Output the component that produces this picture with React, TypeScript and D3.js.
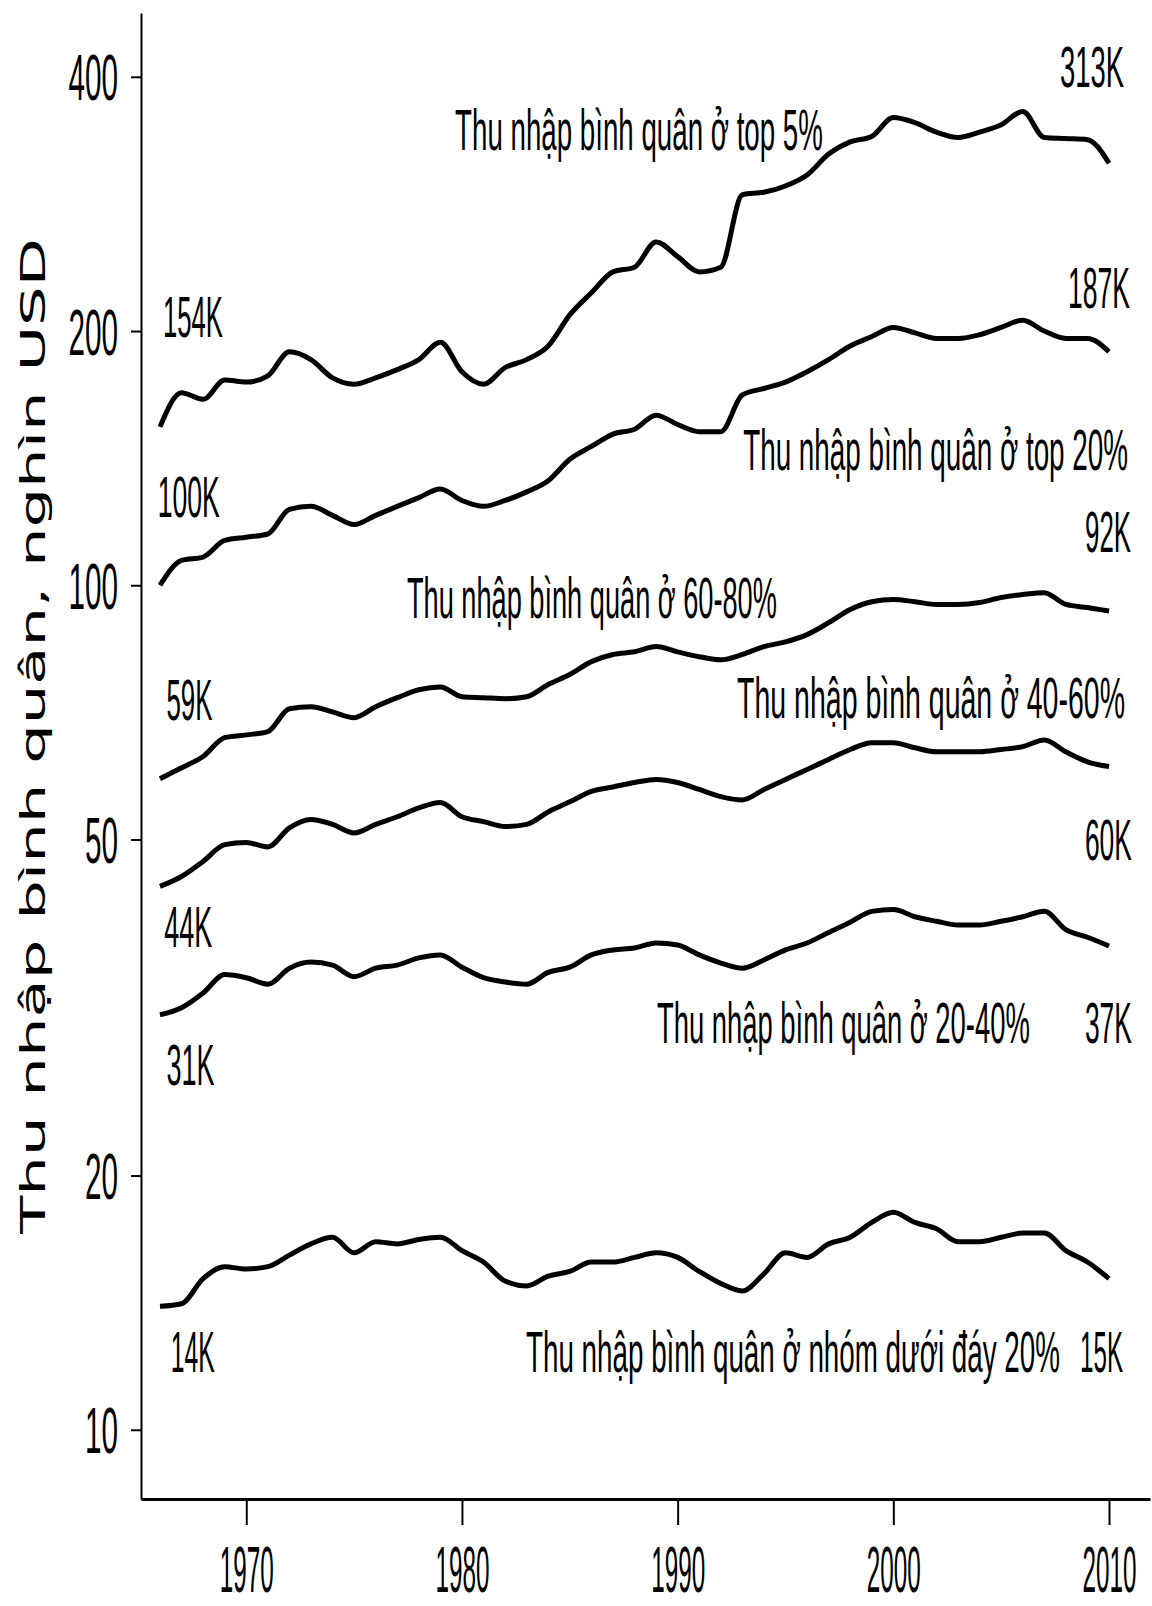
import { useEffect, useRef } from 'react';
import * as d3 from 'd3';

// Annual average household income by quintile, thousands USD (log scale)
const years = d3.range(1966, 2011);

const top5 = [154, 169, 166, 175, 174, 177, 189, 185, 176, 173, 176, 180, 185, 194, 179, 173, 181, 185, 192, 209, 222, 235, 238, 255, 245, 235, 238, 290, 292, 297, 306, 324, 335, 340, 358, 353, 344, 339, 344, 351, 364, 339, 338, 337, 316];
const top20 = [100, 107, 108, 113, 114, 115, 123, 124, 121, 118, 121, 124, 127, 130, 126, 124, 126, 129, 133, 141, 146, 151, 153, 159, 155, 152, 152, 168, 171, 174, 179, 185, 192, 197, 202, 199, 196, 196, 198, 202, 206, 200, 196, 196, 189];
const mid6080 = [59, 60.8, 62.7, 66.0, 66.5, 67.1, 71.4, 71.8, 70.8, 69.7, 71.8, 73.6, 75.2, 75.8, 73.8, 73.6, 73.4, 73.8, 76.3, 78.4, 81.2, 82.8, 83.4, 84.6, 83.4, 82.3, 81.6, 82.8, 84.6, 85.7, 87.4, 90.3, 93.6, 95.6, 96.2, 95.6, 94.9, 94.9, 95.4, 96.7, 97.5, 98.0, 94.9, 94.1, 93.2];
const mid4060 = [44, 45.2, 47.1, 49.3, 49.6, 49.0, 51.6, 52.8, 52.1, 50.9, 52.1, 53.2, 54.5, 55.3, 53.2, 52.5, 51.8, 52.1, 53.9, 55.4, 57.0, 57.7, 58.4, 58.9, 58.4, 57.3, 56.2, 55.7, 57.3, 58.9, 60.5, 62.2, 63.9, 65.1, 65.1, 64.2, 63.5, 63.5, 63.5, 63.9, 64.4, 65.6, 63.5, 61.8, 61.0];
const low2040 = [31, 31.6, 32.9, 34.6, 34.3, 33.7, 35.2, 35.8, 35.5, 34.4, 35.2, 35.5, 36.2, 36.5, 35.3, 34.3, 33.9, 33.7, 34.8, 35.3, 36.5, 37.0, 37.2, 37.7, 37.5, 36.5, 35.7, 35.2, 36.0, 37.0, 37.7, 38.8, 39.9, 41.1, 41.3, 40.5, 40.0, 39.6, 39.6, 40.0, 40.5, 41.1, 39.1, 38.3, 37.4];
const bottom20 = [14, 14.1, 15.1, 15.6, 15.5, 15.6, 16.1, 16.6, 16.9, 16.2, 16.7, 16.6, 16.8, 16.9, 16.3, 15.8, 15.0, 14.8, 15.2, 15.4, 15.8, 15.8, 16.0, 16.2, 16.0, 15.4, 14.9, 14.6, 15.3, 16.2, 16.0, 16.6, 16.9, 17.6, 18.1, 17.6, 17.3, 16.7, 16.7, 16.9, 17.1, 17.1, 16.3, 15.8, 15.1];

const seriesList = [top5, top20, mid6080, mid4060, low2040, bottom20];

const startLabels = ['154K', '100K', '59K', '44K', '31K', '14K'];
const endLabels = ['313K', '187K', '92K', '60K', '37K', '15K'];
const seriesNames = [
  'Thu nhập bình quân ở top 5%',
  'Thu nhập bình quân ở top 20%',
  'Thu nhập bình quân ở 60-80%',
  'Thu nhập bình quân ở 40-60%',
  'Thu nhập bình quân ở 20-40%',
  'Thu nhập bình quân ở nhóm dưới đáy 20%',
];

const yTicks = [10, 20, 50, 100, 200, 400];
const xTicks = [1970, 1980, 1990, 2000, 2010];
const yTitle = 'Thu nhập bình quân, nghìn USD';

const NARROW = '"Liberation Sans Narrow", "Liberation Sans", Arial, sans-serif';

// squeeze/stretch a text horizontally so it spans `width` px
function fit(node: SVGTextElement, tx: number, ty: number, width: number, rotate = 0) {
  const len = node.getComputedTextLength() || width;
  const s = width / len;
  node.setAttribute('transform', `translate(${tx},${ty})${rotate ? ` rotate(${rotate})` : ''} scale(${s},1)`);
}

export default function App() {
  const svgRef = useRef<SVGSVGElement>(null);

  useEffect(() => {
    if (!svgRef.current) return;
    const svg = d3.select(svgRef.current);
    svg.selectAll('*').remove();

    const x = d3.scaleLinear().domain([1965.12, 2011.9]).range([141, 1150]);
    const y = d3.scaleLog().domain([8.28, 476]).range([1499, 13]);

    // y axis
    const gy = svg.append('g')
      .attr('transform', 'translate(141,0)')
      .call(d3.axisLeft(y).tickValues(yTicks).tickSize(10).tickSizeOuter(0).tickFormat(() => ''));
    gy.select('.domain').attr('stroke', '#000').attr('stroke-width', 2);
    gy.selectAll('.tick line').attr('stroke', '#000').attr('stroke-width', 2);
    gy.selectAll('.tick text').remove();
    gy.selectAll<SVGGElement, number>('.tick').each(function (d) {
      const t = d3.select(this).append('text')
        .attr('text-anchor', 'end')
        .attr('dy', '0.36em')
        .attr('font-family', NARROW)
        .attr('font-size', 64)
        .attr('fill', '#000')
        .text(d3.format('d')(d));
      fit(t.node() as SVGTextElement, -23, 0, String(d).length * 16.5);
    });

    // x axis
    const gx = svg.append('g')
      .attr('transform', 'translate(0,1499)')
      .call(d3.axisBottom(x).tickValues(xTicks).tickSize(26).tickSizeOuter(0).tickFormat(() => ''));
    gx.select('.domain').attr('stroke', '#000').attr('stroke-width', 3);
    gx.selectAll('.tick line').attr('stroke', '#000').attr('stroke-width', 2);
    gx.selectAll('.tick text').remove();
    gx.selectAll<SVGGElement, number>('.tick').each(function (d) {
      const t = d3.select(this).append('text')
        .attr('text-anchor', 'middle')
        .attr('font-family', NARROW)
        .attr('font-size', 64)
        .attr('fill', '#000')
        .text(d3.format('d')(d));
      fit(t.node() as SVGTextElement, 0, 93, 54);
    });

    // y title
    const title = svg.append('text')
      .attr('text-anchor', 'middle')
      .attr('font-family', '"DejaVu Sans", Verdana, sans-serif')
      .attr('font-size', 34)
      .attr('fill', '#000')
      .text(yTitle);
    fit(title.node() as SVGTextElement, 45, 736, 996, -90);

    // lines
    const line = d3.line<number>()
      .x((_, i) => x(years[i]))
      .y(d => y(d))
      .curve(d3.curveMonotoneX);

    svg.append('g')
      .selectAll('path')
      .data(seriesList)
      .enter()
      .append('path')
      .attr('d', d => line(d))
      .attr('fill', 'none')
      .attr('stroke', '#000')
      .attr('stroke-width', 5)
      .attr('stroke-linejoin', 'round');

    // label placement: [year, value, anchor, width]
    const startPos: [number, number, string, number][] = [
      [1966.14, 197, 'start', 60],
      [1965.9, 120.6, 'start', 62],
      [1966.3, 69.3, 'start', 46],
      [1966.2, 37.3, 'start', 48],
      [1966.3, 25.6, 'start', 48],
      [1966.5, 11.7, 'start', 44],
    ];
    const endPos: [number, number, string, number][] = [
      [2010.69, 389, 'end', 64],
      [2010.97, 213, 'end', 62],
      [2011.02, 109.6, 'end', 46],
      [2011.06, 47.3, 'end', 47],
      [2011.06, 28.7, 'end', 47],
      [2010.65, 11.7, 'end', 43],
    ];
    const namePos: [number, number, string, number][] = [
      [1979.68, 328, 'start', 368],
      [2010.88, 137, 'end', 385],
      [1977.45, 91.5, 'start', 370],
      [2010.74, 69.7, 'end', 388],
      [1989.04, 28.7, 'start', 373],
      [1982.97, 11.7, 'start', 534],
    ];

    const addLabels = (texts: string[], pos: [number, number, string, number][]) => {
      const g = svg.append('g');
      texts.forEach((txt, i) => {
        const [yr, val, anchor, w] = pos[i];
        const t = g.append('text')
          .attr('text-anchor', anchor)
          .attr('font-family', NARROW)
          .attr('font-size', 58)
          .attr('fill', '#000')
          .text(txt);
        fit(t.node() as SVGTextElement, x(yr), y(val), w);
      });
    };
    addLabels(startLabels, startPos);
    addLabels(endLabels, endPos);
    addLabels(seriesNames, namePos);
  }, []);

  return (
    <svg
      ref={svgRef}
      width={1152}
      height={1606}
      style={{ position: 'absolute', left: 0, top: 0, background: '#fff' }}
    />
  );
}
